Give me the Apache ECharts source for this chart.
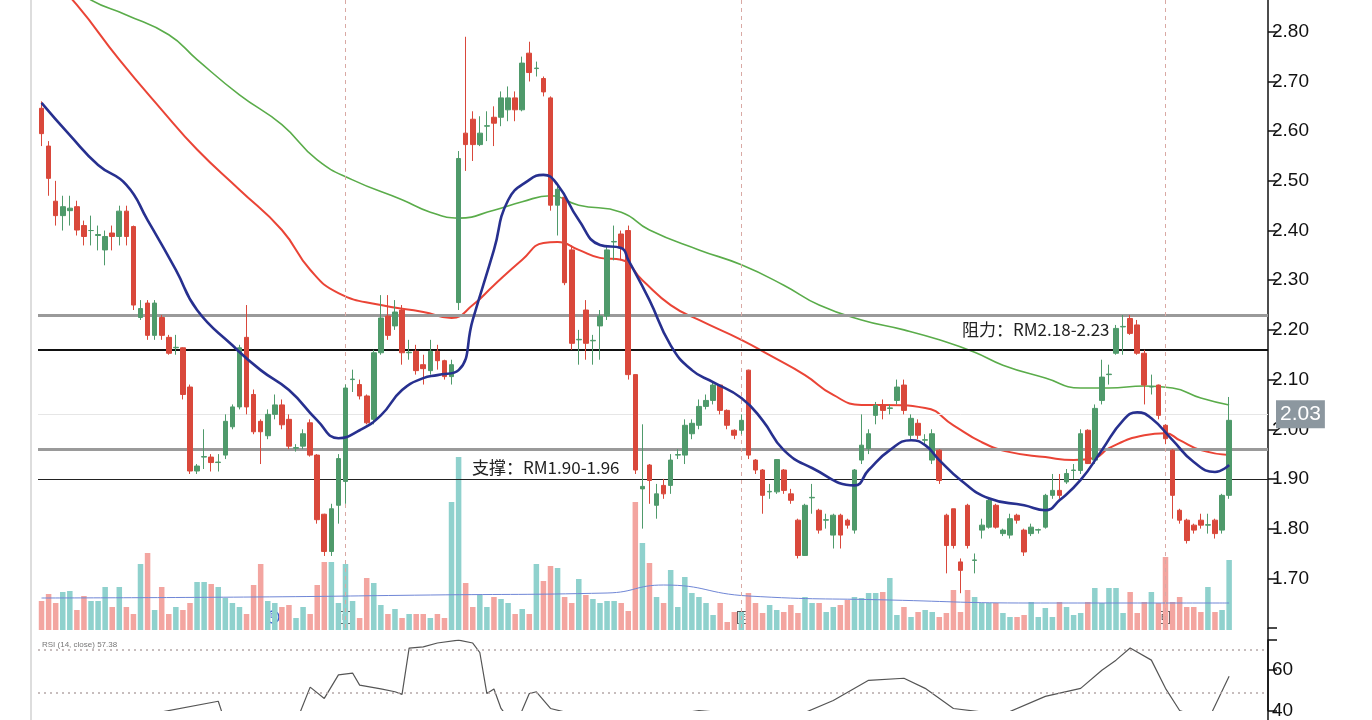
<!DOCTYPE html>
<html>
<head>
<meta charset="utf-8">
<script src="https://cdn.jsdelivr.net/npm/echarts@6/dist/echarts.min.js"></script>
<style>
  html,body{margin:0;padding:0;background:#fff;}
  #chartDiv{width:1372px;height:720px;}
</style>
</head>
<body>
<div id="chartDiv"></div>
<script>
// [open, close, low, high]
var candles = [
  [2.646,2.595,2.57,2.66],[2.57,2.505,2.47,2.58],[2.459,2.43,2.41,2.50],[2.43,2.448,2.40,2.47],[2.44,2.445,2.41,2.47],
  [2.448,2.401,2.39,2.46],[2.41,2.388,2.37,2.42],[2.40,2.40,2.37,2.43],[2.39,2.392,2.36,2.41],[2.361,2.388,2.33,2.40],
  [2.395,2.388,2.36,2.41],[2.388,2.439,2.37,2.45],[2.439,2.388,2.37,2.45],[2.408,2.25,2.24,2.41],[2.225,2.243,2.22,2.26],
  [2.254,2.189,2.18,2.26],[2.189,2.254,2.18,2.26],[2.225,2.189,2.18,2.23],[2.185,2.153,2.15,2.19],[2.164,2.165,2.15,2.19],
  [2.164,2.07,2.06,2.165],[2.085,1.916,1.91,2.09],[1.916,1.926,1.91,1.93],[1.944,1.945,1.92,2.00],[1.944,1.933,1.915,1.95],
  [1.933,1.934,1.915,1.95],[1.948,2.016,1.94,2.03],[2.005,2.045,2.00,2.05],[2.045,2.164,2.04,2.17],[2.185,2.045,2.03,2.25],
  [2.07,1.995,1.99,2.08],[2.016,1.995,1.93,2.02],[1.987,2.03,1.98,2.04],[2.03,2.049,2.02,2.07],[2.049,2.009,2.00,2.06],
  [2.02,1.966,1.96,2.03],[1.962,1.963,1.955,1.97],[1.966,1.991,1.96,2.00],[2.013,1.948,1.945,2.02],[1.948,1.818,1.81,1.95],
  [1.829,1.754,1.745,1.83],[1.754,1.84,1.745,1.85],[1.847,1.941,1.81,1.95],[1.895,2.083,1.85,2.09],[2.10,2.101,2.075,2.12],
  [2.09,2.067,2.06,2.10],[2.067,2.013,2.01,2.07],[2.02,2.154,2.01,2.16],[2.154,2.224,2.15,2.27],[2.228,2.189,2.18,2.27],
  [2.208,2.236,2.20,2.26],[2.24,2.154,2.13,2.25],[2.154,2.155,2.14,2.18],[2.157,2.118,2.11,2.17],[2.13,2.122,2.09,2.15],
  [2.118,2.157,2.11,2.18],[2.157,2.138,2.12,2.17],[2.138,2.106,2.10,2.14],[2.106,2.13,2.09,2.14],[2.255,2.545,2.24,2.56],
  [2.596,2.573,2.52,2.79],[2.624,2.573,2.54,2.64],[2.573,2.596,2.57,2.63],[2.61,2.611,2.58,2.64],[2.628,2.616,2.57,2.65],
  [2.628,2.667,2.61,2.68],[2.643,2.667,2.62,2.69],[2.667,2.643,2.62,2.68],[2.643,2.737,2.64,2.75],[2.757,2.718,2.70,2.78],
  [2.726,2.727,2.71,2.74],[2.706,2.679,2.67,2.71],[2.667,2.451,2.44,2.67],[2.451,2.483,2.39,2.49],[2.467,2.295,2.29,2.47],
  [2.361,2.173,2.16,2.37],[2.18,2.181,2.13,2.20],[2.24,2.173,2.14,2.26],[2.178,2.179,2.13,2.19],[2.208,2.228,2.14,2.24],
  [2.228,2.361,2.22,2.37],[2.377,2.378,2.34,2.41],[2.393,2.365,2.34,2.40],[2.40,2.11,2.10,2.41],[2.11,1.918,1.91,2.11],
  [1.88,1.885,1.80,2.01],[1.928,1.897,1.85,1.93],[1.847,1.87,1.82,1.89],[1.887,1.87,1.86,1.90],[1.887,1.938,1.87,1.95],
  [1.948,1.949,1.94,1.96],[1.948,2.008,1.93,2.02],[1.991,2.012,1.98,2.02],[2.008,2.046,2.00,2.06],[2.046,2.058,2.04,2.07],
  [2.058,2.089,2.05,2.095],[2.089,2.038,2.03,2.09],[2.038,2.008,2.00,2.04],[1.998,1.988,1.98,2.00],[1.998,2.018,1.99,2.03],
  [2.119,1.948,1.94,2.12],[1.938,1.918,1.91,1.94],[1.918,1.867,1.83,1.92],[1.874,1.875,1.86,1.89],[1.874,1.939,1.87,1.94],
  [1.918,1.877,1.87,1.92],[1.87,1.857,1.85,1.88],[1.817,1.746,1.74,1.82],[1.746,1.847,1.745,1.85],[1.862,1.863,1.83,1.89],
  [1.837,1.797,1.79,1.84],[1.817,1.818,1.80,1.83],[1.787,1.827,1.76,1.83],[1.827,1.787,1.76,1.83],[1.817,1.807,1.80,1.82],
  [1.797,1.918,1.79,1.92],[1.938,1.968,1.93,2.03],[1.961,1.991,1.95,2.00],[2.028,2.048,2.01,2.055],[2.048,2.038,2.02,2.06],
  [2.042,2.043,2.03,2.05],[2.058,2.085,2.05,2.10],[2.089,2.038,2.03,2.10],[1.988,2.022,1.98,2.03],[2.012,1.988,1.98,2.02],
  [1.978,1.979,1.97,1.99],[1.938,1.991,1.93,2.00],[1.958,1.897,1.89,1.96],[1.827,1.766,1.71,1.83],[1.84,1.766,1.76,1.84],
  [1.733,1.716,1.67,1.74],[1.847,1.766,1.76,1.85],[1.736,1.737,1.71,1.75],[1.797,1.807,1.78,1.82],[1.803,1.857,1.80,1.86],
  [1.847,1.803,1.80,1.85],[1.79,1.797,1.785,1.80],[1.787,1.82,1.78,1.83],[1.827,1.817,1.81,1.83],[1.797,1.753,1.745,1.80],
  [1.79,1.803,1.785,1.81],[1.797,1.798,1.79,1.80],[1.803,1.867,1.80,1.87],[1.867,1.877,1.86,1.91],[1.877,1.867,1.86,1.91],
  [1.894,1.911,1.89,1.92],[1.917,1.918,1.90,1.93],[1.917,1.991,1.91,2.00],[1.998,1.931,1.93,2.00],[1.938,2.042,1.93,2.05],
  [2.058,2.105,2.05,2.14],[2.11,2.111,2.09,2.13],[2.153,2.203,2.15,2.21],[2.206,2.207,2.15,2.23],[2.223,2.193,2.19,2.23],
  [2.21,2.153,2.15,2.22],[2.153,2.089,2.05,2.16],[2.085,2.086,2.07,2.11],[2.089,2.028,2.02,2.09],[2.008,1.981,1.97,2.01],
  [1.958,1.867,1.82,1.96],[1.837,1.817,1.81,1.84],[1.817,1.776,1.77,1.82],[1.807,1.797,1.79,1.81],[1.817,1.807,1.80,1.83],
  [1.807,1.808,1.79,1.83],[1.817,1.79,1.78,1.82],[1.797,1.867,1.79,1.87],[1.867,2.018,1.86,2.065]
];

var volumes = [
  29,36,27,38,39,20,34,29,29,43,23,43,23,16,66,77,20,43,16,23,20,27,48,48,46,43,32,27,23,16,45,66,29,27,23,25,12,23,16,45,68,68,
  27,66,29,12,52,47,25,16,21,12,16,16,16,12,16,12,128,173,47,23,35,23,33,31,27,16,21,16,66,49,64,62,33,27,51,35,31,27,29,29,27,19,128,
  87,67,33,27,60,23,53,37,33,27,15,27,8,18,18,37,27,17,25,20,18,25,17,33,27,27,18,23,25,30,33,32,37,37,38,52,15,23,13,18,20,18,13,17,40,18,
  40,33,27,27,27,17,13,13,15,28,13,22,13,28,23,15,17,28,42,27,42,42,17,38,17,28,38,27,73,28,33,23,23,18,43,18,20,70
];

// moving averages: [candle index, price]
var maBlue = [[0,2.657],[4,2.592],[8,2.532],[12,2.492],[15,2.421],[19,2.321],[22,2.24],[27,2.169],[31,2.119],[35,2.079],
  [39,2.018],[42,1.982],[45,1.998],[48,2.028],[51,2.079],[54,2.103],[56,2.109],[59,2.119],[61,2.22],[64,2.361],[66,2.461],
  [69,2.502],[71,2.512],[73,2.492],[76,2.421],[79,2.371],[82,2.365],[83,2.341],[86,2.26],[89,2.169],[92,2.119],[95,2.095],
  [99,2.063],[102,2.018],[105,1.958],[109,1.922],[115,1.887],[117,1.918],[120,1.958],[123,1.978],[125,1.968],[127,1.938],
  [130,1.898],[134,1.861],[139,1.847],[142,1.837],[144,1.857],[147,1.898],[150,1.958],[153,2.018],[155,2.034],[157,2.022],
  [160,1.978],[163,1.934],[166,1.914],[168,1.928]];
var maRed = [[0,2.93],[5,2.854],[11,2.744],[17,2.643],[22,2.563],[28,2.482],[34,2.401],[38,2.321],[42,2.274],[48,2.25],
  [54,2.236],[58,2.224],[61,2.25],[64,2.29],[68,2.341],[71,2.375],[73,2.377],[76,2.361],[79,2.345],[82,2.341],[85,2.30],
  [89,2.25],[93,2.22],[99,2.18],[103,2.149],[108,2.109],[112,2.069],[116,2.049],[119,2.049],[125,2.043],[129,2.008],
  [133,1.974],[137,1.954],[142,1.944],[146,1.938],[149,1.942],[151,1.962],[156,1.988],[159,1.992],[161,1.978],[164,1.958],[168,1.948]];
var maGreen = [[0,2.93],[7,2.864],[12,2.834],[18,2.794],[22,2.744],[28,2.673],[34,2.613],[39,2.542],[44,2.502],[51,2.462],
  [55,2.437],[59,2.425],[64,2.441],[68,2.458],[72,2.47],[76,2.451],[82,2.437],[86,2.401],[93,2.361],[99,2.331],[105,2.29],
  [110,2.25],[116,2.22],[122,2.20],[127,2.18],[132,2.155],[136,2.129],[142,2.103],[147,2.083],[151,2.083],[156,2.087],
  [160,2.083],[164,2.063],[168,2.049]];
var volMa = [[0,32],[30,33],[55,35],[80,37],[88,45],[100,34],[120,30],[140,27],[168,27]];
var rsi = [[0,38.6],[1,34],[9,34],[25,44.6],[26,34],[29,38.6],[31,38],[36,34],[38,51.6],[40,46],[42,57.7],[44,58.6],
  [45,52.6],[48,50.7],[50,49.3],[51,48],[52,71],[54,71.6],[56,73.5],[59,74.9],[61,73.5],[62,68.8],[63,48.4],[64,50.7],
  [65,41],[67,32],[69,48.4],[70,49.3],[72,41],[79,35],[86,36],[93,40],[99,38],[106,36],[112,45],[117,55],[122,56],
  [125,51],[129,41],[136,38],[142,47],[147,51],[150,60],[152,65],[154,71],[157,65],[159,51],[161,40],[165,35],[168,57]];

var priceTicks = [1.70,1.80,1.90,2.00,2.10,2.20,2.30,2.40,2.50,2.60,2.70,2.80];
var rsiTicks = [40, 60];
var resistance = [2.16,2.23], support = [1.90,1.96];
var lastPrice = 2.03;
var eventIdx = [43,99,159];

var cats = [];
for (var i = 0; i < 174; i++) cats.push(String(i));
var volData = volumes.map(function(v, i){
  var up = candles[i][1] >= candles[i][0];
  return {value: v, itemStyle: {color: up ? '#8fd1cd' : '#f3a5a0'}};
});

var myChart = echarts.init(document.getElementById('chartDiv'));
var font = 'Liberation Sans';
var option = {
  animation: false,
  backgroundColor: '#fff',
  textStyle: {fontFamily: font},
  grid: [
    {left: 38, width: 1230, top: 0, height: 628},
    {left: 38, width: 1230, top: 450, height: 180},
    {left: 38, width: 1230, top: 640, height: 75}
  ],
  xAxis: [0,1,2].map(function(g){
    return {type: 'category', data: cats, gridIndex: g, boundaryGap: true,
      axisLine: {show: false}, axisTick: {show: false}, axisLabel: {show: false}, splitLine: {show: false}};
  }),
  yAxis: [
    {type: 'value', gridIndex: 0, position: 'right', min: 1.6, max: 2.864, interval: 0.1,
      axisLine: {show: true, lineStyle: {color: '#111', width: 1.5}},
      axisTick: {show: true, length: 9, lineStyle: {color: '#111', width: 1.5}},
      splitLine: {show: false},
      axisLabel: {fontSize: 19, color: '#111', margin: 4, showMaxLabel: false, formatter: function(v){
        return priceTicks.some(function(t){return Math.abs(t - v) < 1e-6;}) ? v.toFixed(2) : '';
      }}},
    {type: 'value', gridIndex: 1, min: 0, max: 180, show: false},
    {type: 'value', gridIndex: 2, position: 'right', min: 40, max: 75, interval: 20,
      axisLine: {show: true, lineStyle: {color: '#111', width: 1.5}},
      axisTick: {show: true, length: 9, lineStyle: {color: '#111', width: 1.5}},
      splitLine: {show: false},
      axisLabel: {fontSize: 19, color: '#111', margin: 4, formatter: function(v){
        return rsiTicks.indexOf(v) >= 0 ? String(v) : '';
      }}}
  ],
  series: [
    {type: 'bar', xAxisIndex: 1, yAxisIndex: 1, data: volData, barWidth: '78%', z: 1},
    {type: 'line', xAxisIndex: 1, yAxisIndex: 1, data: volMa, smooth: true, symbol: 'none',
      lineStyle: {color: '#6f86d6', width: 1}, z: 2},
    {type: 'candlestick', data: candles, barWidth: '72%', z: 5,
      itemStyle: {color: '#4f9a6b', color0: '#d9483b', borderColor: '#4f9a6b', borderColor0: '#d9483b', borderWidth: 1},
      markLine: {symbol: 'none', silent: true, data: [
        {yAxis: resistance[1], lineStyle: {color: '#9a9a9a', width: 3, type: 'solid'}, label: {show: false}},
        {yAxis: resistance[0], lineStyle: {color: '#111', width: 1.8, type: 'solid'}, label: {show: false}},
        {yAxis: support[1], lineStyle: {color: '#9a9a9a', width: 3, type: 'solid'}, label: {show: false}},
        {yAxis: support[0], lineStyle: {color: '#222', width: 1.2, type: 'solid'}, label: {show: false}},
        {yAxis: lastPrice, lineStyle: {color: '#e6e6e6', width: 1, type: 'solid'},
          label: {show: true, position: 'end', formatter: lastPrice.toFixed(2), color: '#fff', fontSize: 21,
            backgroundColor: '#8c979f', padding: [4, 4, 3, 4], distance: 8}}
      ].concat(eventIdx.map(function(x){
        return {xAxis: x, lineStyle: {color: '#d9a9a4', width: 1, type: [4, 4]}, label: {show: false}};
      }))}
    },
    {type: 'line', data: maGreen, smooth: true, symbol: 'none', lineStyle: {color: '#5aac4a', width: 1.6}, z: 4},
    {type: 'line', data: maRed, smooth: true, symbol: 'none', lineStyle: {color: '#ea4436', width: 2}, z: 4},
    {type: 'line', data: maBlue, smooth: true, symbol: 'none', lineStyle: {color: '#27308f', width: 2.6}, z: 6},
    {type: 'line', xAxisIndex: 2, yAxisIndex: 2, data: rsi, symbol: 'none', lineStyle: {color: '#555', width: 1.2},
      markLine: {symbol: 'none', silent: true, label: {show: false},
        lineStyle: {color: '#b5a8a8', type: [2, 4], width: 1.5},
        data: [{yAxis: 70}, {yAxis: 49}]}}
  ],
  graphic: [
    {type: 'line', shape: {x1: 31, y1: 0, x2: 31, y2: 720}, style: {stroke: '#bbb', lineWidth: 1}},
    {type: 'line', shape: {x1: 1268, y1: 628, x2: 1268, y2: 720}, style: {stroke: '#111', lineWidth: 1.5}},
    {type: 'text', left: 962, top: 321, style: {text: '阻力：RM2.18-2.23', fontSize: 17, fill: '#222', fontFamily: 'Noto Sans CJK SC'}},
    {type: 'text', left: 472, top: 459, style: {text: '支撑：RM1.90-1.96', fontSize: 17, fill: '#222', fontFamily: 'Noto Sans CJK SC'}},
    {type: 'text', left: 42, top: 641, style: {text: 'RSI (14, close) 57.38', fontSize: 8, fill: '#777'}},
    {type: 'text', left: 339, top: 611, style: {text: 'E', fontSize: 9, fill: '#333', backgroundColor: '#fff', borderColor: '#555', borderWidth: 1, padding: [1, 2]}},
    {type: 'text', left: 737, top: 611, style: {text: 'E', fontSize: 9, fill: '#333', backgroundColor: '#fff', borderColor: '#555', borderWidth: 1, padding: [1, 2]}},
    {type: 'text', left: 1158, top: 611, style: {text: 'E', fontSize: 9, fill: '#333', backgroundColor: '#fff', borderColor: '#555', borderWidth: 1, padding: [1, 2]}},
    {type: 'circle', shape: {cx: 273, cy: 617, r: 6}, style: {fill: '#fff', stroke: '#3a5bd0', lineWidth: 1.5}},
    {type: 'text', left: 270, top: 612, style: {text: 'D', fontSize: 8, fill: '#3a5bd0'}}
  ]
};
myChart.setOption(option);
</script>
</body>
</html>
